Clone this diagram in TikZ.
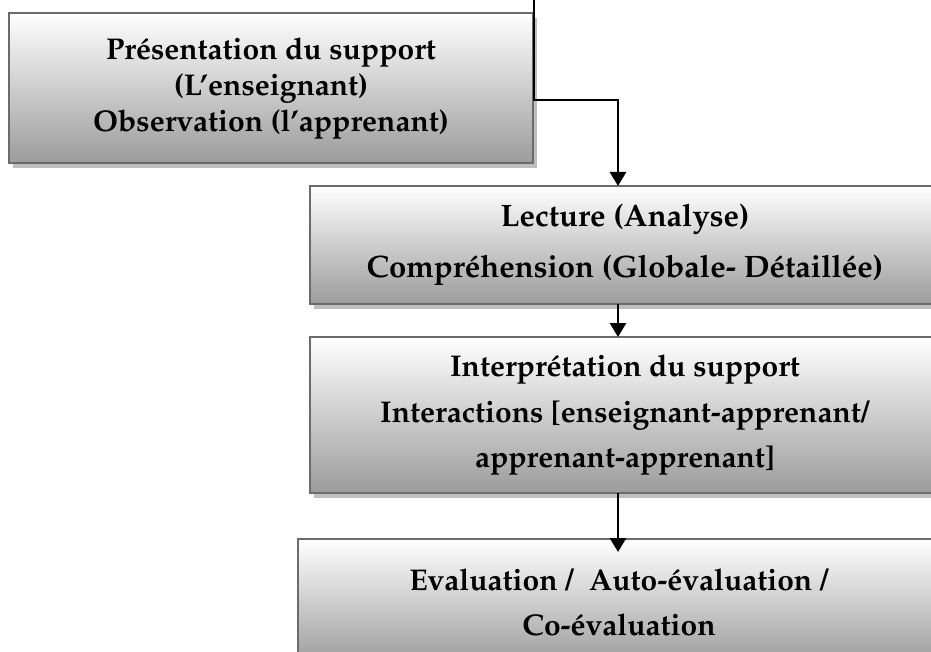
\documentclass[tikz,border=0pt]{standalone}
\usepackage[T1]{fontenc}
\usepackage{mathpazo}
\usetikzlibrary{arrows.meta,shadows,calc}

\tikzset{
  stepbox/.style={rectangle, draw=black!58, line width=2.6pt,
    top color=white, bottom color=gray!78,
    inner sep=0pt, outer sep=0pt, anchor=north west, align=center,
    drop shadow={shadow xshift=4pt, shadow yshift=-5pt, fill=black!25, opacity=1}},
  link/.style={line width=2.7pt, black},
  flow/.style={link, -{Triangle[length=14pt,width=16pt]}}
}

\begin{document}
\begin{tikzpicture}[x=1pt,y=-1pt]
  \useasboundingbox (0,0) rectangle (931,652);

  % the four stages
  \node[stepbox, minimum width=524pt, minimum height=150pt, text depth=6pt,
        font=\fontsize{30}{36}\selectfont\bfseries] (pres) at (9,13)
    {Pr\'esentation du support\\(L'enseignant)\\Observation (l'apprenant)};
  \node[stepbox, minimum width=630pt, minimum height=118pt,
        font=\fontsize{31}{51}\selectfont\bfseries] (lect) at (310,186)
    {Lecture (Analyse)\\Compr\'ehension (Globale- D\'etaill\'ee)};
  \node[stepbox, minimum width=630pt, minimum height=156pt,
        font=\fontsize{30}{45.5}\selectfont\bfseries] (interp) at (310,337)
    {Interpr\'etation du support\\Interactions [enseignant-apprenant/\\apprenant-apprenant]};
  \node[stepbox, minimum width=642pt, minimum height=126pt,
        font=\fontsize{30}{45}\selectfont\bfseries] (eval) at (298,539)
    {Evaluation /~~Auto-\'evaluation /\\Co-\'evaluation};

  % connectors
  \coordinate (src) at (534,-3);
  \coordinate (elbow) at (618,100);
  \draw[flow] (src) |- (elbow) -- (elbow |- lect.north);
  \draw[flow] (lect.south -| elbow) -- (interp.north -| elbow);
  \draw[flow] (interp.south -| elbow) -- ($(eval.north -| elbow)+(0,13)$);
\end{tikzpicture}
\end{document}
